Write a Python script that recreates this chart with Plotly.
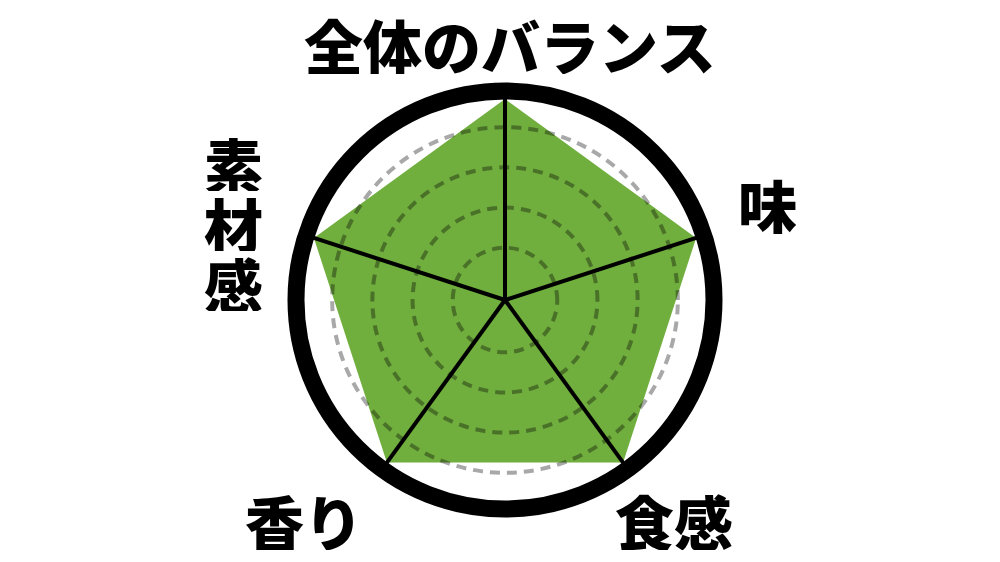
import plotly.graph_objects as go

# radar axes (clockwise from the top) and their scores
categories = ["全体のバランス", "味", "食感", "香り", "素材感"]
scores = [5, 5, 5, 5, 5]
# dashed reference rings
ring_levels = [1.3, 2.3, 3.3, 4.3]
r_max = 5.2

W, H = 1000, 562
cx, cy, R = 505, 300, 209   # centre and outer ring radius in px
domain = dict(x=[(cx - R) / W, (cx + R) / W],
              y=[(H - cy - R) / H, (H - cy + R) / H])

fig = go.Figure()
# green score polygon (bottom subplot)
fig.add_trace(go.Scatterpolar(
    r=scores + scores[:1],
    theta=categories + categories[:1],
    mode="none",
    fill="toself",
    fillcolor="#70AE3D",
    hoverinfo="skip",
    showlegend=False,
    subplot="polar",
))
# invisible trace so the overlay subplot (rings, spokes, frame) is drawn on top
fig.add_trace(go.Scatterpolar(
    r=[0] * len(categories),
    theta=categories,
    mode="markers",
    marker=dict(opacity=0),
    hoverinfo="skip",
    showlegend=False,
    subplot="polar2",
))

hidden_ang = dict(rotation=90, direction="clockwise", showticklabels=False, ticks="",
                  showline=False, showgrid=False)
hidden_rad = dict(range=[0, r_max], showticklabels=False, ticks="", showline=False, showgrid=False)

fig.update_layout(
    width=W, height=H,
    margin=dict(l=0, r=0, t=0, b=0),
    paper_bgcolor="white",
    plot_bgcolor="white",
    showlegend=False,
    polar=dict(domain=domain, bgcolor="white", radialaxis=hidden_rad, angularaxis=hidden_ang),
    polar2=dict(
        domain=domain,
        bgcolor="rgba(0,0,0,0)",
        radialaxis=dict(
            range=[0, r_max],
            tickvals=ring_levels,
            showticklabels=False,
            ticks="",
            showline=False,
            gridcolor="rgba(0,0,0,0.34)",
            gridwidth=3.5,
            griddash="10px,7px",
        ),
        angularaxis=dict(
            rotation=90,
            direction="clockwise",
            showticklabels=False,
            ticks="",
            showline=True,
            linecolor="black",
            linewidth=17,
            gridcolor="black",
            gridwidth=3.5,
        ),
    ),
)

label_font = dict(family="Noto Sans CJK JP", size=59, color="black", weight=900)
# label positions in px (centre of text)
label_pos = {
    "全体のバランス": (510, 44),
    "味": (767, 204),
    "食感": (674, 520),
    "香り": (304, 520),
}
for name, (x, y) in label_pos.items():
    fig.add_annotation(text=name, x=x / W, y=1 - y / H, xref="paper", yref="paper",
                       xanchor="center", yanchor="middle", showarrow=False, font=label_font,
                       height=60)

# vertical label on the left, one character per line
for i, ch in enumerate(categories[4]):
    fig.add_annotation(text=ch, x=233 / W, y=1 - (163 + 60 * i) / H, xref="paper", yref="paper",
                       xanchor="center", yanchor="middle", showarrow=False, font=label_font,
                       height=56)

fig.write_html("out.html", config={"displayModeBar": False},
               post_script="document.body.style.margin='0';")
